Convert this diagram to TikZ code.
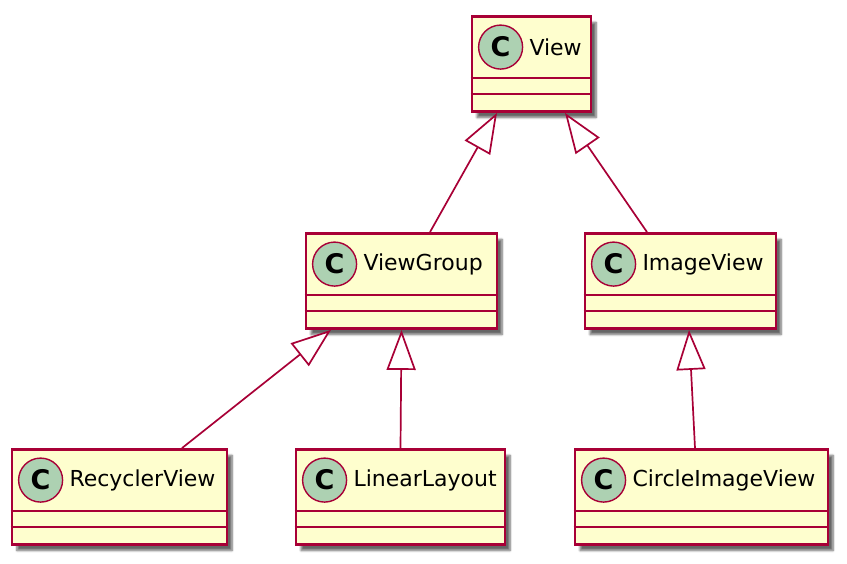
\documentclass[tikz,border=0pt]{standalone}
\usepackage{fontspec}
\setmainfont{DejaVu Sans}
\usetikzlibrary{arrows.meta,shadows.blur}

\definecolor{umlred}{HTML}{A80036}
\definecolor{umlfill}{HTML}{FEFECE}
\definecolor{umlgreen}{HTML}{ADD1B2}

\tikzset{
  classbox/.style={draw=umlred, fill=umlfill, line width=2.8pt,
    minimum height=95pt, inner sep=0pt,
    blur shadow={shadow xshift=5pt, shadow yshift=-6pt, shadow blur steps=6, shadow opacity=60}},
  classline/.style={draw=umlred, line width=2.8pt},
  classcircle/.style={circle, draw=umlred, fill=umlgreen, line width=1.4pt,
    minimum size=44pt, inner sep=0pt, font=\fontsize{27}{27}\selectfont\bfseries},
  classname/.style={anchor=west, inner sep=0pt, font=\fontsize{22}{26}\selectfont},
  extends/.style={draw=umlred, line width=1.7pt,
    -{Triangle[open, length=40pt, width=29pt, fill=white, line width=1.7pt]}},
}

% name, centre, width, label
\newcommand\umlclass[4]{%
  \node[classbox, minimum width=#3] (#1) at (#2) {};
  \draw[classline] ([yshift=-63pt]#1.north west) -- ([yshift=-63pt]#1.north east);
  \draw[classline] ([yshift=-79pt]#1.north west) -- ([yshift=-79pt]#1.north east);
  \node[classcircle] (#1-c) at ([xshift=30pt,yshift=-32pt]#1.north west) {C};
  \node[classname] (#1-t) at ([xshift=6pt]#1-c.east) {#4};
}

\begin{document}
\begin{tikzpicture}[x=1pt, y=1pt]
  \useasboundingbox (0,0) rectangle (847,564);

  % classes
  \umlclass{view}{531.5,500}{119pt}{View}
  \umlclass{viewgroup}{401.5,283}{191pt}{ViewGroup}
  \umlclass{imageview}{680.5,283}{191pt}{ImageView}
  \umlclass{recyclerview}{119.5,67}{215pt}{RecyclerView}
  \umlclass{linearlayout}{400.5,67}{209pt}{LinearLayout}
  \umlclass{circleimageview}{701.5,67}{253pt}{CircleImageView}

  % inheritance
  \draw[extends] ([xshift=28.5pt]viewgroup.north) -- ([xshift=-34.5pt]view.south);
  \draw[extends] ([xshift=-33.5pt]imageview.north) -- ([xshift=33.5pt]view.south);
  \draw[extends] ([xshift=62.5pt]recyclerview.north) -- ([xshift=-70.5pt]viewgroup.south);
  \draw[extends] (linearlayout.north) -- (viewgroup.south);
  \draw[extends] ([xshift=-6.5pt]circleimageview.north) -- ([xshift=8.5pt]imageview.south);
\end{tikzpicture}
\end{document}
